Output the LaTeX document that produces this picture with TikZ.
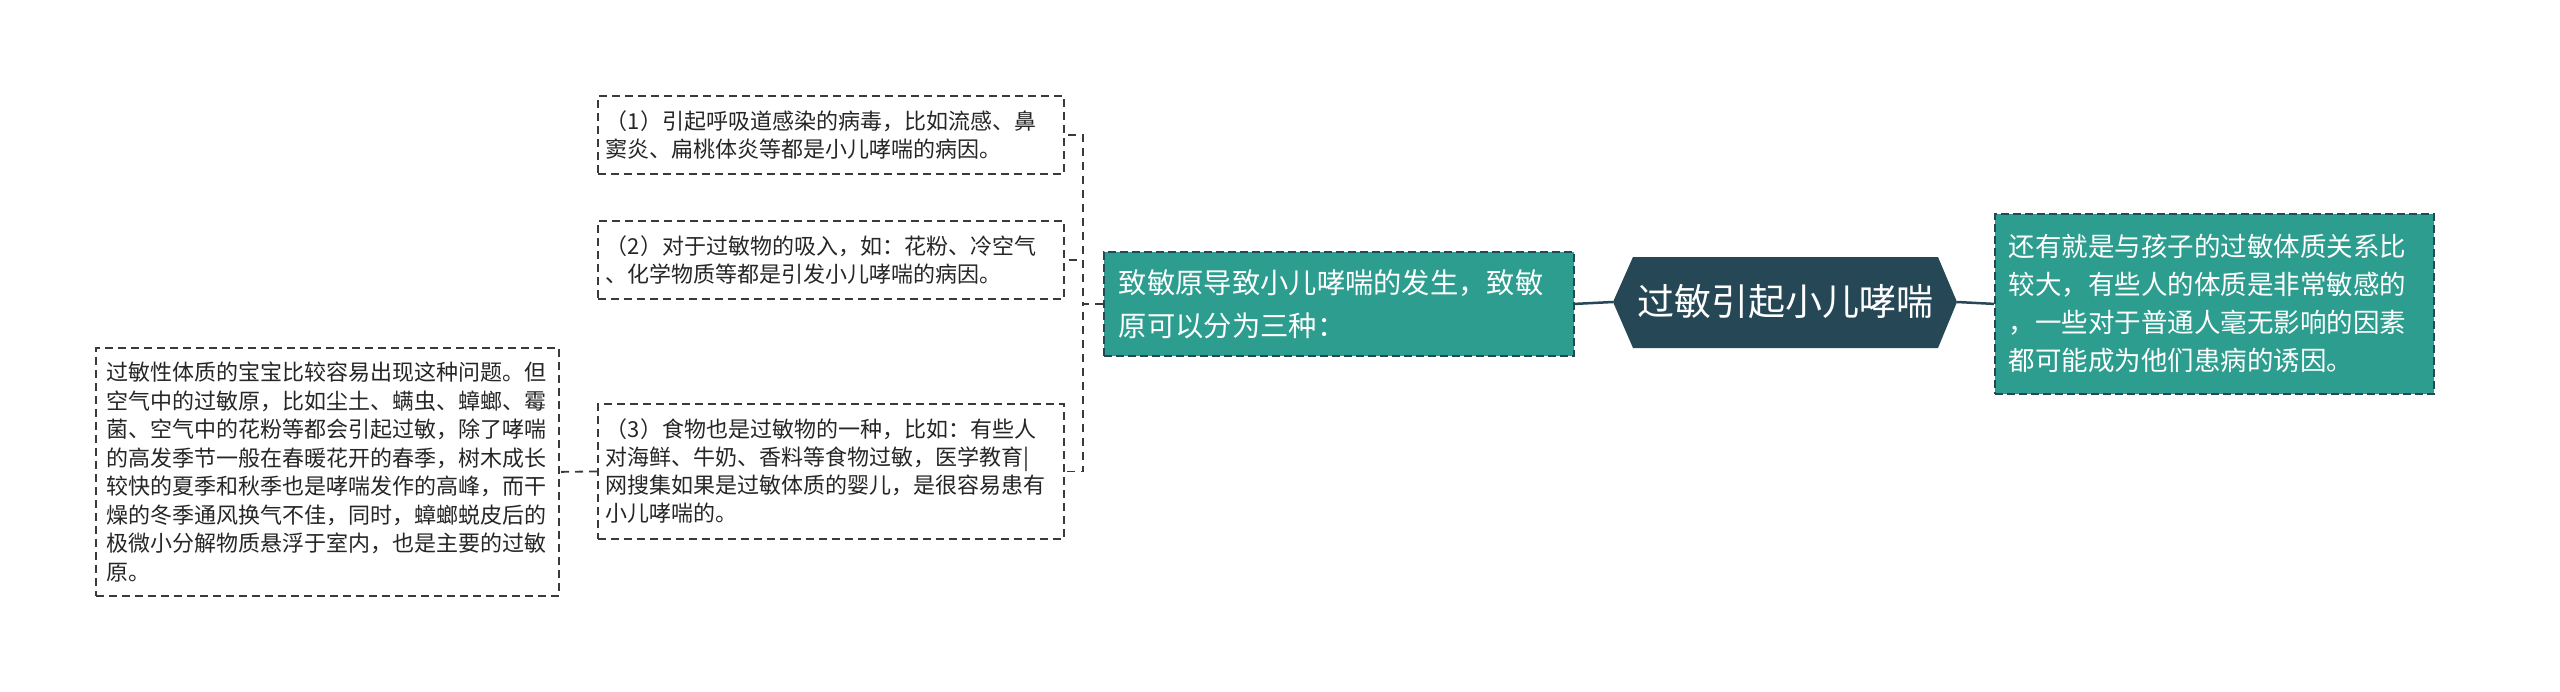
\documentclass[tikz,border=0pt]{standalone}
\usepackage{fontspec}
\setmainfont{Noto Sans CJK SC}
\usetikzlibrary{positioning}
\definecolor{rootcol}{HTML}{264856}
\definecolor{tealcol}{HTML}{2C9D8E}
\definecolor{leafline}{HTML}{3A3A3A}
\definecolor{leaftext}{HTML}{262626}
\tikzset{
  leaf/.style={draw=leafline, dash pattern=on 8pt off 5pt, line width=1.8pt, fill=white,
    anchor=north west, align=left, inner xsep=8pt, inner ysep=0pt, text=leaftext,
    font=\fontsize{22}{28}\selectfont},
  tealbox/.style={draw=rootcol, dash pattern=on 8pt off 4pt, line width=1.8pt, fill=tealcol,
    anchor=north west, align=left, inner ysep=0pt, text=white},
  link/.style={draw=leafline, dash pattern=on 8pt off 6pt, line width=1.8pt},
  rootlink/.style={draw=rootcol, line width=2.5pt}
}
\begin{document}
\begin{tikzpicture}[x=1pt,y=-1pt]
\useasboundingbox (0,0) rectangle (2560,691);
% central topic
\fill[rootcol] (1613,302) -- (1633,257) -- (1938,257) -- (1957,302) -- (1938,348) -- (1633,348) -- cycle;
\node[text=white, font=\fontsize{37}{40}\selectfont] (root) at (1785,302) {过敏引起小儿哮喘};
\coordinate (rootW) at (1613,302);
\coordinate (rootE) at (1957,302);
% main branches
\node[tealbox, text width=440pt, inner xsep=15pt, minimum height=104pt, font=\fontsize{28.3}{43}\selectfont] (cause) at (1103,251)
  {致敏原导致小儿哮喘的发生，致敏\\原可以分为三种：};
\node[tealbox, text width=411pt, inner xsep=14pt, minimum height=180pt, font=\fontsize{26.5}{38}\selectfont] (body) at (1994,213)
  {还有就是与孩子的过敏体质关系比\\较大，有些人的体质是非常敏感的\\，一些对于普通人毫无影响的因素\\都可能成为他们患病的诱因。};
% three kinds
\node[leaf, text width=450pt, minimum height=78pt] (virus) at (597,95)
  {（1）引起呼吸道感染的病毒，比如流感、鼻\\窦炎、扁桃体炎等都是小儿哮喘的病因。};
\node[leaf, text width=450pt, minimum height=78pt] (inhale) at (597,220)
  {（2）对于过敏物的吸入，如：花粉、冷空气\\、化学物质等都是引发小儿哮喘的病因。};
\node[leaf, text width=450pt, minimum height=135pt] (food) at (597,403)
  {（3）食物也是过敏物的一种，比如：有些人\\对海鲜、牛奶、香料等食物过敏，医学教育|\\网搜集如果是过敏体质的婴儿，是很容易患有\\小儿哮喘的。};
\node[leaf, text width=441pt, inner xsep=11pt, minimum height=248pt, font=\fontsize{22}{28.5}\selectfont] (season) at (95,347)
  {过敏性体质的宝宝比较容易出现这种问题。但\\空气中的过敏原，比如尘土、螨虫、蟑螂、霉\\菌、空气中的花粉等都会引起过敏，除了哮喘\\的高发季节一般在春暖花开的春季，树木成长\\较快的夏季和秋季也是哮喘发作的高峰，而干\\燥的冬季通风换气不佳，同时，蟑螂蜕皮后的\\极微小分解物质悬浮于室内，也是主要的过敏\\原。};
% connectors
\draw[rootlink] (rootW) -- (cause.east);
\draw[rootlink] (rootE) -- (body.west);
\draw[link] (cause.west) -- ++(-20,0) |- (virus.east);
\draw[link] (cause.west) -- ++(-20,0) |- (inhale.east);
\draw[link] (cause.west) -- ++(-20,0) |- (food.east);
\draw[link] (food.west) -- (season.east);
\end{tikzpicture}
\end{document}
